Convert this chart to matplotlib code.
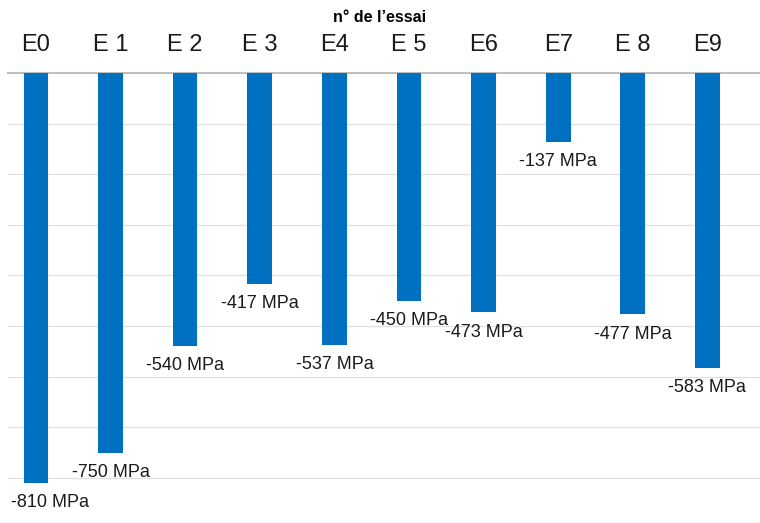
import matplotlib
matplotlib.use("Agg")
import matplotlib.pyplot as plt

plt.rcParams["font.family"] = ["Liberation Sans", "DejaVu Sans"]

# --- data ---
essais = ["E0", "E 1", "E 2", "E 3", "E4", "E 5", "E6", "E7", "E 8", "E9"]
contraintes = [-810, -750, -540, -417, -537, -450, -473, -137, -477, -583]
etiquettes = [f"{v} MPa" for v in contraintes]

fig = plt.figure(figsize=(7.6, 5.23), dpi=100)
ax = fig.add_axes([8 / 760, 0, 752 / 760, 450 / 523])

x = list(range(len(essais)))
ax.bar(x, contraintes, width=0.33, color="#0070c0", zorder=3)

for xi, v, lab in zip(x, contraintes, etiquettes):
    # first label is nudged right so it stays inside the figure
    dx = 10 if xi == 0 else 0
    ax.annotate(lab, xy=(xi, v), xytext=(dx, -8), textcoords="offset points",
                ha="center", va="top", fontsize=13, color="#1a1a1a")

ax.set_xlim(-0.375, 9.705)
ax.set_ylim(-889, 0)
ax.set_yticks(range(-800, 0, 100))
ax.yaxis.grid(True, color="#e0e0e0", lw=0.9, zorder=0)
ax.tick_params(axis="y", left=False, labelleft=False)

ax.xaxis.tick_top()
ax.set_xticks(x)
ax.set_xticklabels(essais, fontsize=17, color="#1a1a1a")
ax.tick_params(axis="x", top=False, pad=9)

for s in ["left", "right", "bottom"]:
    ax.spines[s].set_visible(False)
ax.spines["top"].set_color("#bfbfbf")
ax.spines["top"].set_linewidth(1.5)

fig.text(380 / 760, 1 - 17 / 523, "n° de l\u2019essai", ha="center", va="center",
         fontsize=11.5, fontweight="bold")

fig.savefig("out.png", dpi=100)
